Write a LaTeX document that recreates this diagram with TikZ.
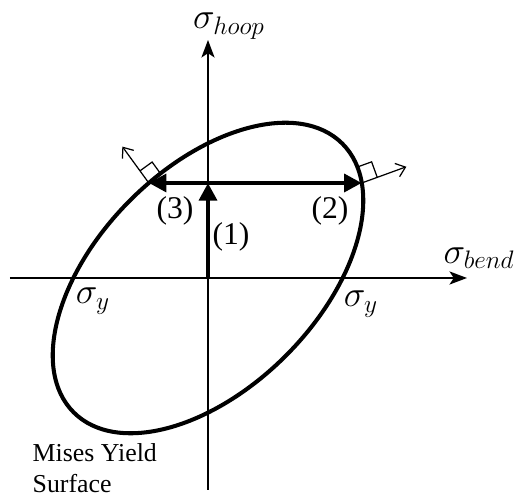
\documentclass[tikz,border=0pt]{standalone}
\usepackage{amsmath}
\usepackage{fontspec}
\setmainfont{Liberation Serif}
\usetikzlibrary{calc,arrows.meta}

\tikzset{
  axis/.style={line width=0.9pt, -{Stealth[length=10pt,width=7.5pt,inset=2.5pt]}},
  load/.style={line width=2.8pt, -{Triangle[length=10pt,width=10pt]}},
  normal/.style={line width=0.7pt, -{Straight Barb[length=5pt,width=8pt]}},
  yield/.style={line width=2.3pt},
  rightangle/.style={line width=0.7pt},
  symb/.style={font=\fontsize{21}{24}\selectfont, inner sep=1pt},
}

\begin{document}
\begin{tikzpicture}[thick, every node/.style={font=\fontsize{18}{21}\selectfont}]
  \useasboundingbox (-4.16,-4.38) rectangle (6.14,5.56);
  \coordinate (O) at (0, 0);
  \coordinate (Xmin) at (-3.96, 0);
  \coordinate (Xmax) at ( 5.18, 0);
  \coordinate (Ymin) at (0, -4.24);
  \coordinate (Ymax) at (0,  4.76);
  \draw[axis] (Xmin) -- (Xmax);
  \draw[axis] (Ymin) -- (Ymax);

  % Mises ellipse, tilted
  \draw[yield, rotate=45] (O) ellipse (3.8 and 2.2);

  \coordinate (P) at (0, 1.9);
  \coordinate (R) at ( 3.075, 1.9);
  \coordinate (L) at (-1.184, 1.9);
  \draw[load] (O) -- (P);
  \draw[load] (P) -- (R);
  \draw[load] (P) -- (L);

  % normals with right-angle marks
  \coordinate (Rn) at ($(R)+(20:0.95)$);
  \coordinate (Ln) at ($(L)+(126:0.9)$);
  \draw[normal] (R) -- (Rn);
  \draw[normal] (L) -- (Ln);
  \draw[rightangle] ($(R)+(20:0.33)$) -- ++(110:0.33) -- ($(R)+(110:0.33)$);
  \draw[rightangle] ($(L)+(126:0.3)$) -- ++(36:0.3) -- ($(L)+(36:0.3)$);

  \node (lbl1) at (0.46, 0.82) {(1)};
  \node (lbl2) at (2.44, 1.34) {(2)};
  \node (lbl3) at (-0.66, 1.34) {(3)};
  \node[symb] (syl) at (-2.3, -0.46) {$\sigma_y$};
  \node[symb] (syr) at ( 3.06, -0.52) {$\sigma_y$};
  \node[symb] (sbend) at (5.42, 0.4) {$\sigma_{bend}$};
  \node[symb] (shoop) at (0.42, 5.04) {$\sigma_{hoop}$};
  \node[anchor=north west, inner sep=0, align=left,
        font=\fontsize{14.7}{17.6}\selectfont] (mises) at (-3.52, -3.3)
        {Mises Yield\\Surface};
\end{tikzpicture}
\end{document}
